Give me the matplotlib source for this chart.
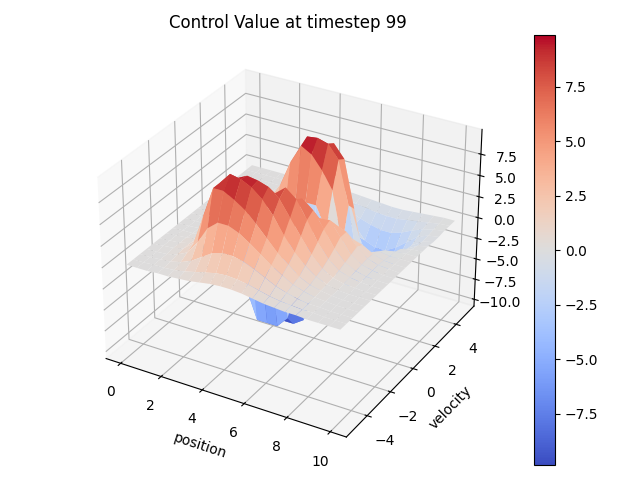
import numpy as np
import matplotlib
matplotlib.use("Agg")
import matplotlib.pyplot as plt

position = np.arange(0, 10.5, 0.5)
velocity = np.arange(-5, 5.5, 0.5)
z_ticks = [-10, -7.5, -5, -2.5, 0, 2.5, 5, 7.5]
control = [
 [0,0,0,.1,.1,.2,.3,.5,.7,.8,.8,.7,.5,.3,.2,.1,.1,0,0,0,0],
 [0,0,.1,.1,.2,.4,.7,1,1.3,1.4,1.3,1.1,.8,.5,.3,.2,.1,.1,0,0,0],
 [0,0,.1,.2,.5,1,1.8,2.6,3,3,2.7,2.2,1.6,1,.6,.3,.1,.1,0,0,0],
 [0,0,.1,.4,1,2.5,4.5,5.5,5.5,5,4.2,3.3,2.4,1.6,.9,.5,.2,.1,0,0,0],
 [0,.1,.2,.5,1.5,5,8.5,8.5,7.8,7,5.8,4.5,3.2,2.2,1.2,.6,.3,.1,0,0,0],
 [0,.1,.2,.5,1.5,4.5,8.5,9.85,9.6,9,8,6.5,4.6,3,1.8,.9,.4,.1,0,0,0],
 [0,.1,.2,.4,1,3,6,8.8,9.4,9.2,8.8,7.8,6,4.2,2.5,1.2,.5,.2,.1,0,0],
 [0,.1,.1,.2,.4,1,2.5,4,4.5,5,7.5,8.5,7.5,5.5,3.3,1.7,.7,.3,.1,0,0],
 [0,0,.1,.1,.2,.3,.3,-.5,-1.5,-2.5,-1,2,7,6,4.2,2.3,1,.4,.1,0,0],
 [0,0,0,.1,0,-.3,-6.5,-9.85,-9.85,-9.85,-8.5,-4,1.5,4.5,4.6,3,1.3,.5,.2,0,0],
 [0,0,0,0,0,-.3,-2.5,-6,-9,-9.85,-9.85,-9,-3,1.5,3.5,3,1.6,.6,.2,.1,0],
 [0,0,0,0,.1,0,-.4,-1,-3,-5.5,-7.5,-7.5,-5.5,-2,1,1.6,1.2,.5,.1,0,0],
 [0,0,0,.1,.2,.5,1,2,2.5,3,3.5,3.5,1,-4,-5,-2,-.3,.2,0,0,0],
 [0,0,.1,.1,.3,.8,2,4,7,9.2,8.5,7,5,-1,-5.5,-4.5,-1.5,-.3,-.1,0,0],
 [0,0,.1,.1,.3,.8,2,4,7.5,9.7,9.85,9.5,8,3,-4,-5.5,-3.5,-1.5,-.4,-.1,0],
 [0,0,0,.1,.2,.5,1.3,3,5.5,7.5,8.5,9,7.5,2,-3.5,-5,-4.5,-2.8,-1,-.3,0],
 [0,0,0,0,.1,.3,.7,1.5,3,4,4.5,4.5,2,-2,-4.5,-5,-4,-2.5,-1.2,-.4,-.1],
 [0,0,0,0,0,.1,.3,.6,1,1,.5,0,-1.5,-3,-3.5,-3.5,-2.8,-1.8,-.8,-.3,-.1],
 [0,0,0,0,0,0,.1,.2,.2,0,-.3,-.8,-1.3,-1.7,-2,-2,-1.6,-1,-.5,-.2,0],
 [0,0,0,0,0,0,0,0,0,-.1,-.2,-.4,-.6,-.8,-.9,-.9,-.7,-.5,-.3,-.1,0],
 [0,0,0,0,0,0,0,0,0,0,0,-.1,-.2,-.3,-.4,-.4,-.3,-.2,-.1,0,0],
]

X, Y = np.meshgrid(position, velocity)
Z = np.array(control, dtype=float)

fig = plt.figure(figsize=(6.4, 4.8), dpi=100)
ax = fig.add_subplot(projection="3d")
surf = ax.plot_surface(X, Y, Z, cmap="coolwarm", rstride=1, cstride=1, linewidth=0,
                       vmin=Z.min(), vmax=Z.max())
ax.set_zlim(-10.84, 10.36, view_margin=0)
ax.set_zticks(z_ticks)
ax.set_xlabel("position")
ax.set_ylabel("velocity")
ax.set_title("Control Value at timestep 99")
cbar = fig.colorbar(surf)
fig.tight_layout()

# fine placement, in figure fractions
p = ax.get_position()
ax.set_position([p.x0 - 1.5 / 640, p.y0, p.width, p.height + 2 / 480])
c = cbar.ax.get_position()
cbar.ax.set_position([c.x0, c.y0, c.width, c.height + 2 / 480])
fig.savefig("out.png", dpi=100)
